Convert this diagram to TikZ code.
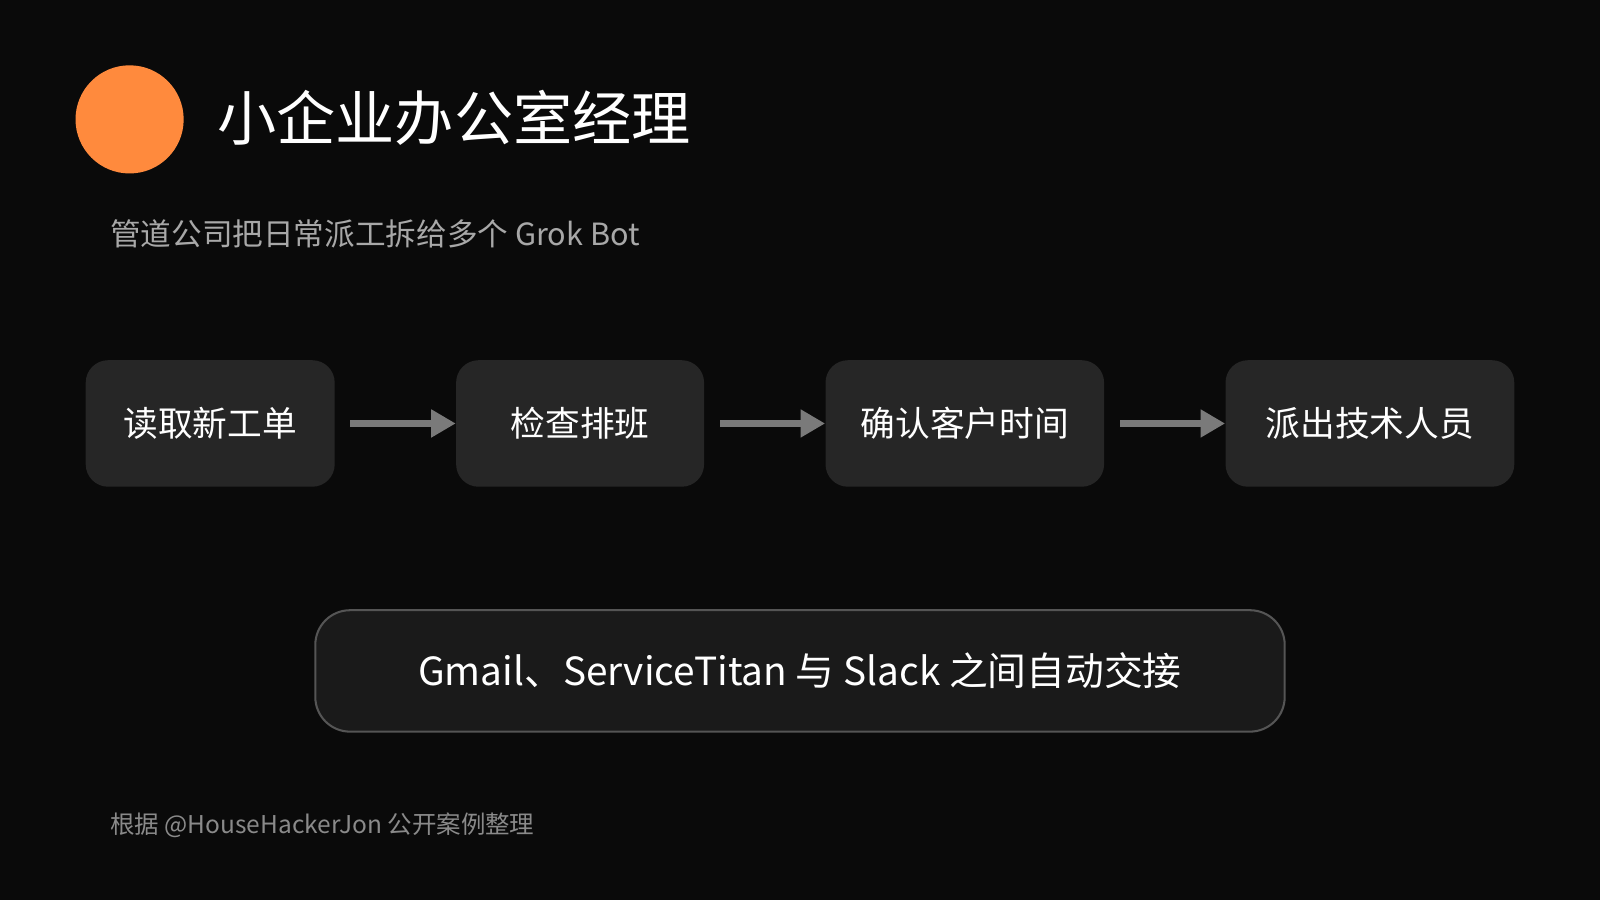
\documentclass[tikz,border=0pt]{standalone}
\usepackage{fontspec}
\setmainfont{Noto Sans CJK SC}
\usetikzlibrary{arrows.meta}
\definecolor{bg}{HTML}{0A0A0A}
\definecolor{orangedot}{HTML}{FF8A3D}
\definecolor{stepfill}{HTML}{262626}
\definecolor{barfill}{HTML}{1A1A1A}
\definecolor{barline}{HTML}{555555}
\definecolor{arrowgray}{HTML}{7A7A7A}
\definecolor{subgray}{HTML}{A8A8A8}
\definecolor{footgray}{HTML}{8A8A8A}
\begin{document}
\begin{tikzpicture}[x=0.5pt,y=-0.5pt]
\tikzset{stage/.style={fill=stepfill,rounded corners=11pt,text=white,font=\fontsize{17}{20}\selectfont,minimum height=62pt,inner sep=0pt},
flow/.style={arrowgray,line width=3pt,-{Triangle[length=12pt,width=13pt]}}}
\fill [bg] (0,0) rectangle (1568,882);
\useasboundingbox (0,0) rectangle (1568,882);
\fill [orangedot] (127,117) circle (26.5pt);
\node (title) [anchor=west,text=white,font=\fontsize{29}{34}\selectfont] at (206,115) {小企业办公室经理};
\node (sub) [anchor=west,text=subgray,font=\fontsize{15}{18}\selectfont] at (101,229) {管道公司把日常派工拆给多个 Grok Bot};
\node (s1) [stage,minimum width=122pt] at (206,415) {读取新工单};
\node (s2) [stage,minimum width=121.5pt] at (568.5,415) {检查排班};
\node (s3) [stage,minimum width=136.5pt] at (945.5,415) {确认客户时间};
\node (s4) [stage,minimum width=141.5pt] at (1342.5,415) {派出技术人员};
\draw [flow] (343,415) -- (s2.west);
\draw [flow] (706,415) -- (s3.west);
\draw [flow] (1098,415) -- (s4.west);
\node (bar) [fill=barfill,draw=barline,line width=1pt,rounded corners=17pt,minimum width=475pt,minimum height=59.5pt,text=white,font=\fontsize{19}{22}\selectfont] at (784,657.5) {Gmail、ServiceTitan 与 Slack 之间自动交接};
\node (foot) [anchor=west,text=footgray,font=\fontsize{12}{14}\selectfont] at (101,809) {根据 @HouseHackerJon 公开案例整理};
\end{tikzpicture}
\end{document}
